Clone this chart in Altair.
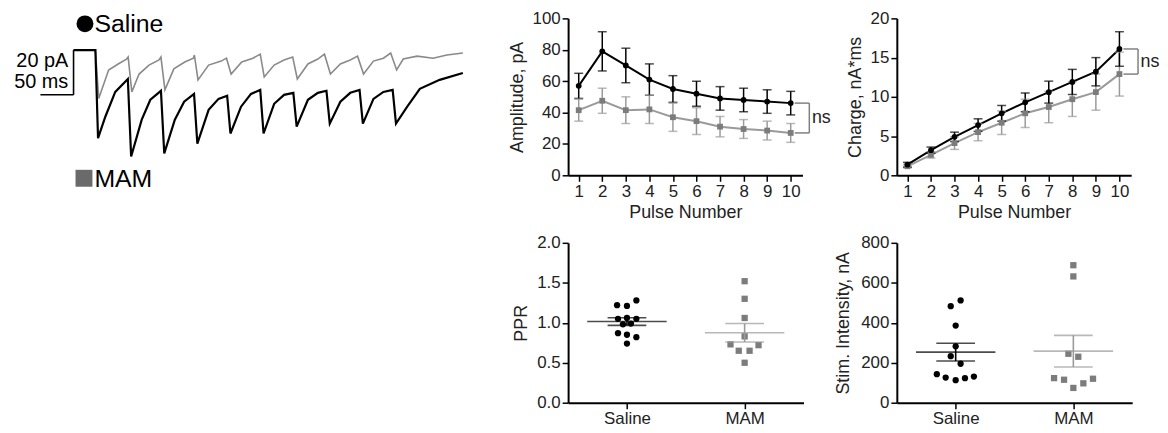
import altair as alt
import pandas as pd

FONT = "Liberation Sans"
GROUPS = ["Saline", "MAM"]

# ---------------- representative traces (time ms, current pA) ----------------
saline_t = [-33, 0, 4, 15, 30, 49, 54, 70, 83, 99, 104, 120, 134, 149, 154, 171, 186, 199,
            204, 220, 235, 249, 254, 270, 285, 299, 304, 321, 336, 349, 354, 370, 385, 399,
            404, 420, 435, 449, 454, 471, 490, 520, 555]
saline_i = [0, 0, -39.4, -29.8, -18.7, -12.9, -47.6, -31.1, -22.2, -18.2, -46.2, -31.1, -23.1,
            -19.6, -41.8, -26.7, -21.8, -20.4, -37.3, -25.3, -19.6, -17.8, -37.3, -24.0, -20.0,
            -19.1, -34.2, -22.2, -19.1, -18.2, -32.9, -23.1, -19.1, -17.8, -32.9, -21.8, -18.7,
            -17.8, -32.9, -25.3, -17.3, -13.3, -10.2]
mam_t = [-33, 0, 5, 20, 35, 47, 49.5, 55, 66, 81, 96, 99, 105, 118.5, 135, 148, 149.5, 155, 171,
         190, 198, 205, 221, 238, 249, 255, 270, 285, 298, 305, 321, 336, 346, 355, 370, 385,
         396, 405, 420, 435, 446, 455, 465, 486, 510, 531, 555]
mam_i = [0, 0, -21.6, -8.9, -6.1, -4.0, -3.1, -18.7, -10.7, -6.7, -4.4, -3.1, -17.8, -8.4, -5.3,
         -3.6, -2.2, -13.3, -6.7, -4.9, -3.6, -10.7, -5.3, -3.6, -1.8, -12.0, -6.7, -4.4, -3.1,
         -12.9, -6.2, -4.0, -1.8, -10.7, -6.2, -4.4, -2.7, -10.7, -4.9, -3.6, -1.3, -8.9, -4.0,
         -2.7, -3.6, -2.2, -1.3]
scalebar_ms = 50
scalebar_pa = 20

# ---------------- per-pulse summaries ----------------
pulses = [1, 2, 3, 4, 5, 6, 7, 8, 9, 10]
amp_saline = [57, 79, 70, 61, 55, 52, 49, 48, 47, 46]
amp_saline_sem = [8, 12.5, 11, 10, 8.5, 8, 7.5, 7.5, 7.5, 7.5]
amp_mam = [41.5, 47.5, 41.5, 42, 37, 34.5, 31, 29.5, 28.5, 27]
amp_mam_sem = [7, 8, 8.5, 9, 9, 8.5, 6.5, 6, 6, 6]

charge_saline = [1.35, 3.2, 4.9, 6.4, 7.9, 9.3, 10.6, 11.9, 13.2, 16.1]
charge_saline_sem = [0.3, 0.4, 0.6, 0.8, 1.0, 1.2, 1.4, 1.6, 1.8, 2.2]
charge_mam = [1.15, 2.6, 4.1, 5.5, 6.7, 7.9, 8.7, 9.7, 10.6, 12.9]
charge_mam_sem = [0.2, 0.4, 0.8, 1.1, 1.5, 1.8, 2.0, 2.2, 2.3, 2.8]

# ---------------- individual cells ----------------
ppr_saline = [1.22, 1.21, 1.28, 1.05, 1.06, 1.05, 0.98, 0.99, 0.87, 0.85, 0.82, 0.74]
ppr_saline_jitter = [-0.084, 0, 0.08, -0.076, 0, 0.08, -0.034, 0.034, -0.076, 0, 0.08, 0]
ppr_mam = [1.52, 1.30, 1.06, 0.83, 0.73, 0.65, 0.65, 0.72, 0.50]
ppr_mam_jitter = [0, 0, 0, 0, -0.12, -0.05, 0.042, 0.118, 0]
ppr_mean = [1.015, 0.875]
ppr_sem = [0.048, 0.115]

stim_saline = [483, 512, 386, 282, 233, 195, 143, 126, 113, 123, 131]
stim_saline_jitter = [-0.042, 0.042, 0, 0, -0.042, 0.042, -0.16, -0.085, 0, 0.079, 0.155]
stim_mam = [688, 632, 245, 230, 123, 115, 74, 97, 120]
stim_mam_jitter = [0, 0, -0.042, 0.042, -0.164, -0.079, 0, 0.085, 0.167]
stim_mean = [253, 258]
stim_sem = [44.5, 79]

# ---------------- styling ----------------
PT_COLORS = ["#000000", "#7c7c7c"]
LN_COLORS = ["#000000", "#9a9a9a"]


def color_enc(rng):
    return alt.Color("group:N", scale=alt.Scale(domain=GROUPS, range=rng), legend=None)


shape_enc = alt.Shape("group:N", scale=alt.Scale(domain=GROUPS, range=["circle", "square"]), legend=None)

# ---------------- trace panel ----------------
TR_W, TR_H = 467, 158
tscale = alt.Scale(domain=[-127.5, 573], nice=False, zero=False)
iscale = alt.Scale(domain=[-56, 14.2], nice=False, zero=False)
tx = alt.X("t:Q", scale=tscale, axis=None)
ty = alt.Y("i:Q", scale=iscale, axis=None)

mam_tr = pd.DataFrame({"t": mam_t, "i": mam_i, "k": range(len(mam_t))})
sal_tr = pd.DataFrame({"t": saline_t, "i": saline_i, "k": range(len(saline_t))})
tr_mam = alt.Chart(mam_tr).mark_line(color="#8a8a8a", strokeWidth=1.6).encode(x=tx, y=ty, order="k:Q")
tr_sal = alt.Chart(sal_tr).mark_line(color="#000000", strokeWidth=2.2).encode(x=tx, y=ty, order="k:Q")

bar_end = saline_t[0]
bars = pd.DataFrame({
    "t": [bar_end - scalebar_ms, bar_end],
    "t2": [bar_end, bar_end],
    "i": [-scalebar_pa, -scalebar_pa],
    "i2": [-scalebar_pa, 0],
})
bar_rules = alt.Chart(bars).mark_rule(color="black", strokeWidth=1.6).encode(
    x=tx, x2="t2:Q", y=ty, y2="i2:Q")
bar_txt = pd.DataFrame({
    "t": [bar_end - 8, bar_end - 8],
    "i": [-scalebar_pa * 0.24, -scalebar_pa * 0.72],
    "label": [f"{scalebar_pa} pA", f"{scalebar_ms} ms"],
})
bar_text = alt.Chart(bar_txt).mark_text(align="right", baseline="middle", fontSize=20, font=FONT, color="black").encode(
    x=tx, y=ty, text="label:N")

leg_s = pd.DataFrame({"label": ["Saline"]})
leg_m = pd.DataFrame({"label": ["MAM"]})
leg_s_pt = alt.Chart(leg_s).mark_point(shape="circle", filled=True, size=290, color="black", opacity=1).encode(
    x=alt.value(74.5), y=alt.value(5.5))
leg_s_tx = alt.Chart(leg_s).mark_text(align="left", baseline="middle", fontSize=25, font=FONT, color="black").encode(
    x=alt.value(84), y=alt.value(6), text="label:N")
leg_m_pt = alt.Chart(leg_m).mark_point(shape="square", filled=True, size=290, color="#6a6a6a", opacity=1).encode(
    x=alt.value(73.5), y=alt.value(161))
leg_m_tx = alt.Chart(leg_m).mark_text(align="left", baseline="middle", fontSize=25, font=FONT, color="black").encode(
    x=alt.value(84), y=alt.value(162), text="label:N")

trace = alt.layer(tr_mam, tr_sal, bar_rules, bar_text, leg_s_pt, leg_s_tx, leg_m_pt, leg_m_tx).properties(
    width=TR_W, height=TR_H)


# ---------------- line panels ----------------
def line_panel(ms, ss, mm, sm, ymax, ystep, ytitle, tpad, height):
    rows = []
    for g, m, s in (("MAM", mm, sm), ("Saline", ms, ss)):
        for p, mv, sv in zip(pulses, m, s):
            rows.append(dict(group=g, pulse=p, mean=mv, lo=mv - sv, hi=mv + sv))
    df = pd.DataFrame(rows)
    xscale = alt.Scale(domain=[0.55, 10.5], nice=False, zero=False)
    xaxis = alt.Axis(values=pulses, title="Pulse Number", labelFlush=False, labelOverlap=False,
                     format="d", titlePadding=4)
    yscale = alt.Scale(domain=[0, ymax], nice=False)
    yvals = [k * ystep for k in range(int(round(ymax / ystep)) + 1)]
    yaxis = alt.Axis(values=yvals, title=ytitle, titlePadding=tpad, format="d", labelOverlap=False)

    def X(f):
        return alt.X(f, scale=xscale, axis=xaxis)

    def Y(f):
        return alt.Y(f, scale=yscale, axis=yaxis)

    base = alt.Chart(df)
    lines = base.mark_line(strokeWidth=2).encode(x=X("pulse:Q"), y=Y("mean:Q"), color=color_enc(LN_COLORS),
                                                  detail="group:N")
    rules = base.mark_rule(strokeWidth=1.5).encode(x=X("pulse:Q"), y=Y("lo:Q"), y2="hi:Q", color=color_enc(LN_COLORS))
    cap_lo = base.mark_tick(orient="horizontal", size=9, thickness=1.5).encode(
        x=X("pulse:Q"), y=Y("lo:Q"), color=color_enc(LN_COLORS))
    cap_hi = base.mark_tick(orient="horizontal", size=9, thickness=1.5).encode(
        x=X("pulse:Q"), y=Y("hi:Q"), color=color_enc(LN_COLORS))
    pts = base.mark_point(filled=True, size=34, opacity=1).encode(
        x=X("pulse:Q"), y=Y("mean:Q"), color=color_enc(PT_COLORS), shape=shape_enc)

    top, bot = ms[-1], mm[-1]
    br = pd.DataFrame({"pulse": [10.17, 10.17, 10.79], "x2": [10.79, 10.79, 10.79],
                       "mean": [top, bot, bot], "y2": [top, bot, top]})
    brk = alt.Chart(br).mark_rule(color="#808080", strokeWidth=1.5).encode(
        x=X("pulse:Q"), x2="x2:Q", y=Y("mean:Q"), y2="y2:Q")
    ns = alt.Chart(pd.DataFrame({"pulse": [10.9], "mean": [(top + bot) / 2], "t": ["ns"]})).mark_text(
        align="left", baseline="middle", fontSize=18, font=FONT, color="#222").encode(
        x=X("pulse:Q"), y=Y("mean:Q"), text="t:N")
    return alt.layer(lines, rules, cap_lo, cap_hi, pts, brk, ns).resolve_scale(color="independent").properties(
        width=236, height=height)


amp = line_panel(amp_saline, amp_saline_sem, amp_mam, amp_mam_sem, 100, 20, "Amplitude, pA", 6, 158)
charge = line_panel(charge_saline, charge_saline_sem, charge_mam, charge_mam_sem, 20, 5, "Charge, nA*ms", 6, 158)


# ---------------- scatter panels ----------------
def scatter_panel(vs, js, vm, jm, means, sems, ymax, ystep, ytitle, tpad, fmt, height):
    pts = pd.DataFrame({
        "group": ["Saline"] * len(vs) + ["MAM"] * len(vm),
        "xpos": [1 + j for j in js] + [2 + j for j in jm],
        "val": vs + vm,
    })
    summ = pd.DataFrame({"group": GROUPS, "xpos": [1, 2], "val": means,
                         "lo": [m - s for m, s in zip(means, sems)], "hi": [m + s for m, s in zip(means, sems)]})
    xs = alt.Scale(domain=[0.5, 2.5], nice=False, zero=False)
    xaxis = alt.Axis(values=[1, 2], title=None, labelOverlap=False,
                     labelExpr="datum.value == 1 ? 'Saline' : 'MAM'")
    yscale = alt.Scale(domain=[0, ymax], nice=False)
    yvals = [k * ystep for k in range(int(round(ymax / ystep)) + 1)]
    yaxis = alt.Axis(values=yvals, title=ytitle, titlePadding=tpad, format=fmt, labelOverlap=False)

    def X(f):
        return alt.X(f, scale=xs, axis=xaxis)

    def Y(f):
        return alt.Y(f, scale=yscale, axis=yaxis)

    p = alt.Chart(pts).mark_point(filled=True, size=40, opacity=1).encode(
        x=X("xpos:Q"), y=Y("val:Q"), color=color_enc(PT_COLORS), shape=shape_enc)
    sb = alt.Chart(summ)
    mean_t = sb.mark_tick(orient="horizontal", size=80, thickness=1.6).encode(
        x=X("xpos:Q"), y=Y("val:Q"), color=color_enc(LN_COLORS))
    lo_t = sb.mark_tick(orient="horizontal", size=39, thickness=1.6).encode(
        x=X("xpos:Q"), y=Y("lo:Q"), color=color_enc(LN_COLORS))
    hi_t = sb.mark_tick(orient="horizontal", size=39, thickness=1.6).encode(
        x=X("xpos:Q"), y=Y("hi:Q"), color=color_enc(LN_COLORS))
    vr = sb.mark_rule(strokeWidth=1.6).encode(
        x=X("xpos:Q"), y=Y("lo:Q"), y2="hi:Q", color=color_enc(LN_COLORS))
    return alt.layer(p, vr, mean_t, lo_t, hi_t).resolve_scale(color="independent").properties(width=237, height=height)


ppr = scatter_panel(ppr_saline, ppr_saline_jitter, ppr_mam, ppr_mam_jitter, ppr_mean, ppr_sem,
                    2.0, 0.5, "PPR", 6, ".1f", 161)
stim = scatter_panel(stim_saline, stim_saline_jitter, stim_mam, stim_mam_jitter, stim_mean, stim_sem,
                     800, 200, "Stim. Intensity, nA", 8, "d", 161)

spacer = alt.Chart(pd.DataFrame({"a": [0]})).mark_point(opacity=0).encode(
    x=alt.value(0), y=alt.value(0)).properties(width=TR_W, height=161)

chart = alt.concat(trace, amp, charge, spacer, ppr, stim, columns=3,
                   spacing=alt.RowColnumber(row=68, column=94), bounds="flush").properties(
    padding=0
).configure(font=FONT).configure_view(stroke=None).configure_axis(
    grid=False, domainColor="black", domainWidth=2, tickColor="black", tickWidth=1.5, tickSize=6,
    labelFont=FONT, labelFontSize=17, labelColor="#222", labelPadding=2,
    titleFont=FONT, titleFontSize=18, titleFontWeight="normal", titleColor="#222",
)

chart.save("out.html", embed_options={"renderer": "svg", "actions": False})
